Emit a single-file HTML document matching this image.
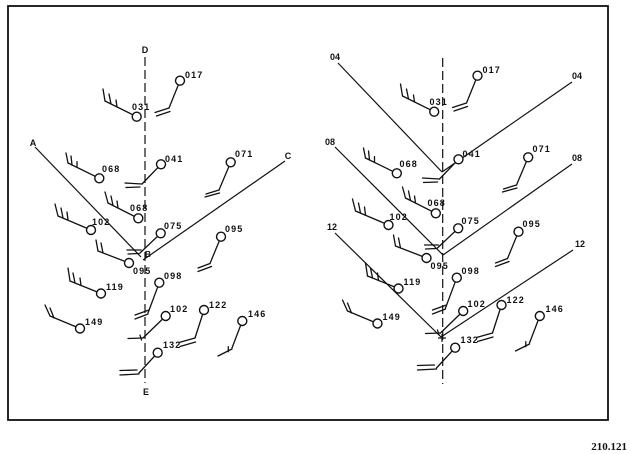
<!DOCTYPE html>
<html><head><meta charset="utf-8"><style>
html,body{margin:0;padding:0;background:#fff;}
svg{display:block;}
text{font-family:"Liberation Sans",sans-serif;font-weight:bold;fill:#111;}
.l{font-size:9px;letter-spacing:1.1px;}
</style></head><body>
<svg width="631" height="454" viewBox="0 0 631 454" xmlns="http://www.w3.org/2000/svg">
<rect x="0" y="0" width="631" height="454" fill="#fff"/>
<rect x="8" y="6" width="600" height="414" fill="none" stroke="#111" stroke-width="1.8"/>

<!-- dashed axes -->
<line x1="145" y1="57" x2="145" y2="383" stroke="#111" stroke-width="1.2" stroke-dasharray="9 4"/>
<line x1="442.7" y1="58" x2="442.7" y2="384" stroke="#111" stroke-width="1.2" stroke-dasharray="9 4"/>
<text x="145" y="53" font-size="9" text-anchor="middle">D</text>
<text x="146" y="395" font-size="9" text-anchor="middle">E</text>

<!-- left isopleths -->
<g stroke="#111" stroke-width="1.2" fill="none">
<line x1="35" y1="147" x2="141" y2="257"/>
<line x1="285" y1="161" x2="143" y2="260"/>
</g>
<text x="33" y="146" font-size="9" text-anchor="middle">A</text>
<text x="288" y="159" font-size="9" text-anchor="middle">C</text>
<text x="148" y="257" font-size="8.5" text-anchor="middle">B</text>

<!-- right isopleths -->
<g stroke="#111" stroke-width="1.2" fill="none">
<line x1="338" y1="63" x2="442" y2="172"/>
<line x1="572" y1="82" x2="442" y2="172"/>
<line x1="335" y1="147" x2="443" y2="255"/>
<line x1="572" y1="164" x2="443" y2="255"/>
<line x1="335" y1="233" x2="441" y2="337"/>
<line x1="573" y1="250" x2="441" y2="337"/>
<line x1="438" y1="338" x2="446" y2="338"/>
<line x1="442" y1="334" x2="442" y2="342"/>
</g>
<text x="335" y="60" font-size="9" text-anchor="middle">04</text>
<text x="577" y="79" font-size="9" text-anchor="middle">04</text>
<text x="330" y="145" font-size="9" text-anchor="middle">08</text>
<text x="577" y="161" font-size="9" text-anchor="middle">08</text>
<text x="332" y="230" font-size="9" text-anchor="middle">12</text>
<text x="580" y="247" font-size="9" text-anchor="middle">12</text>

<!-- LEFT stations -->
<g>
<g stroke="#111" stroke-width="1.3" fill="none" stroke-linecap="round">
<line x1="136.7" y1="116.7" x2="105" y2="101"/><line x1="105" y1="101" x2="103" y2="89"/><line x1="111" y1="104" x2="109" y2="94"/><line x1="117" y1="107" x2="116" y2="100"/>
<line x1="99.3" y1="178.3" x2="68" y2="163"/><line x1="68" y1="163" x2="66" y2="153"/><line x1="72" y1="165" x2="71" y2="156"/><line x1="77" y1="167.5" x2="77" y2="161.7"/>
<line x1="138.3" y1="218.3" x2="108" y2="203"/><line x1="108" y1="203" x2="105" y2="192"/><line x1="113" y1="205.5" x2="111" y2="196"/><line x1="118" y1="208" x2="117" y2="201"/>
<line x1="91" y1="230" x2="58" y2="216"/><line x1="58" y1="216" x2="55" y2="204"/><line x1="63" y1="218" x2="61" y2="208"/><line x1="68" y1="220" x2="67" y2="212"/>
<line x1="129" y1="263" x2="98" y2="251"/><line x1="98" y1="251" x2="96" y2="240"/><line x1="103" y1="253" x2="101" y2="243"/>
<line x1="101" y1="293.5" x2="70" y2="281"/><line x1="70" y1="281" x2="68" y2="268"/><line x1="75" y1="283" x2="73" y2="273"/><line x1="81" y1="285.5" x2="80" y2="278"/>
<line x1="80" y1="328.5" x2="50" y2="316"/><line x1="50" y1="316" x2="45" y2="305"/><line x1="54" y1="318" x2="50" y2="308"/>
<line x1="180" y1="80.7" x2="169" y2="108"/><line x1="169" y1="108" x2="155" y2="112.5"/><line x1="170" y1="111.5" x2="156.5" y2="116"/>
<line x1="161" y1="164.3" x2="142" y2="184"/><line x1="142" y1="184" x2="125" y2="183"/><line x1="140" y1="187" x2="126" y2="187.5"/>
<line x1="230.7" y1="162.3" x2="219" y2="190"/><line x1="219" y1="190" x2="206" y2="194"/><line x1="219.5" y1="193" x2="205" y2="197"/>
<line x1="160.7" y1="233.3" x2="140" y2="253"/><line x1="141" y1="250" x2="127" y2="250"/><line x1="139" y1="253.5" x2="128" y2="254"/>
<line x1="221" y1="236.7" x2="210" y2="263.5"/><line x1="210" y1="263.5" x2="198" y2="268"/><line x1="211.5" y1="266.5" x2="198" y2="271.5"/>
<line x1="159.3" y1="282.7" x2="148" y2="313"/><line x1="149" y1="310" x2="135" y2="315"/><line x1="148" y1="314" x2="135" y2="319"/>
<line x1="165.7" y1="316" x2="143" y2="338"/><line x1="143" y1="338" x2="128" y2="338.5"/><line x1="140" y1="335" x2="141.5" y2="340"/>
<line x1="204" y1="310" x2="195" y2="338"/><line x1="195" y1="338" x2="179" y2="342.5"/><line x1="195.5" y1="342" x2="180" y2="346.5"/>
<line x1="242.3" y1="321" x2="232" y2="348"/><line x1="232" y1="349" x2="218" y2="356"/><line x1="228.3" y1="346.7" x2="228.3" y2="351.7"/>
<line x1="157.7" y1="352.7" x2="139" y2="373"/><line x1="137" y1="370" x2="120" y2="370.5"/><line x1="139" y1="374" x2="120" y2="375"/>
</g>
<g stroke="#111" stroke-width="1.4" fill="#fff">
<circle cx="136.7" cy="116.7" r="4.5"/><circle cx="180" cy="80.7" r="4.5"/><circle cx="99.3" cy="178.3" r="4.5"/>
<circle cx="161" cy="164.3" r="4.5"/><circle cx="230.7" cy="162.3" r="4.5"/><circle cx="138.3" cy="218.3" r="4.5"/>
<circle cx="91" cy="230" r="4.5"/><circle cx="160.7" cy="233.3" r="4.5"/><circle cx="129" cy="263" r="4.5"/>
<circle cx="221" cy="236.7" r="4.5"/><circle cx="101" cy="293.5" r="4.5"/><circle cx="159.3" cy="282.7" r="4.5"/>
<circle cx="80" cy="328.5" r="4.5"/><circle cx="165.7" cy="316" r="4.5"/><circle cx="204" cy="310" r="4.5"/>
<circle cx="242.3" cy="321" r="4.5"/><circle cx="157.7" cy="352.7" r="4.5"/>
</g>
</g>
<g class="l">
<text x="132" y="110">031</text>
<text x="185" y="78">017</text>
<text x="102" y="172">068</text>
<text x="165" y="162">041</text>
<text x="235" y="157">071</text>
<text x="130" y="211">068</text>
<text x="92" y="225">102</text>
<text x="164" y="229">075</text>
<text x="133" y="274">095</text>
<text x="225" y="232">095</text>
<text x="106" y="290">119</text>
<text x="164" y="279">098</text>
<text x="85" y="325">149</text>
<text x="170" y="312">102</text>
<text x="209" y="308">122</text>
<text x="248" y="317">146</text>
<text x="163" y="348">132</text>
</g>

<!-- RIGHT stations -->
<g transform="translate(297.5,-5)">
<g stroke="#111" stroke-width="1.3" fill="none" stroke-linecap="round">
<line x1="136.7" y1="116.7" x2="105" y2="101"/><line x1="105" y1="101" x2="103" y2="89"/><line x1="111" y1="104" x2="109" y2="94"/><line x1="117" y1="107" x2="116" y2="100"/>
<line x1="99.3" y1="178.3" x2="68" y2="163"/><line x1="68" y1="163" x2="66" y2="153"/><line x1="72" y1="165" x2="71" y2="156"/><line x1="77" y1="167.5" x2="77" y2="161.7"/>
<line x1="138.3" y1="218.3" x2="108" y2="203"/><line x1="108" y1="203" x2="105" y2="192"/><line x1="113" y1="205.5" x2="111" y2="196"/><line x1="118" y1="208" x2="117" y2="201"/>
<line x1="91" y1="230" x2="58" y2="216"/><line x1="58" y1="216" x2="55" y2="204"/><line x1="63" y1="218" x2="61" y2="208"/><line x1="68" y1="220" x2="67" y2="212"/>
<line x1="129" y1="263" x2="98" y2="251"/><line x1="98" y1="251" x2="96" y2="240"/><line x1="103" y1="253" x2="101" y2="243"/>
<line x1="101" y1="293.5" x2="70" y2="281"/><line x1="70" y1="281" x2="68" y2="268"/><line x1="75" y1="283" x2="73" y2="273"/><line x1="81" y1="285.5" x2="80" y2="278"/>
<line x1="80" y1="328.5" x2="50" y2="316"/><line x1="50" y1="316" x2="45" y2="305"/><line x1="54" y1="318" x2="50" y2="308"/>
<line x1="180" y1="80.7" x2="169" y2="108"/><line x1="169" y1="108" x2="155" y2="112.5"/><line x1="170" y1="111.5" x2="156.5" y2="116"/>
<line x1="161" y1="164.3" x2="142" y2="184"/><line x1="142" y1="184" x2="125" y2="183"/><line x1="140" y1="187" x2="126" y2="187.5"/>
<line x1="230.7" y1="162.3" x2="219" y2="190"/><line x1="219" y1="190" x2="206" y2="194"/><line x1="219.5" y1="193" x2="205" y2="197"/>
<line x1="160.7" y1="233.3" x2="140" y2="253"/><line x1="141" y1="250" x2="127" y2="250"/><line x1="139" y1="253.5" x2="128" y2="254"/>
<line x1="221" y1="236.7" x2="210" y2="263.5"/><line x1="210" y1="263.5" x2="198" y2="268"/><line x1="211.5" y1="266.5" x2="198" y2="271.5"/>
<line x1="159.3" y1="282.7" x2="148" y2="313"/><line x1="149" y1="310" x2="135" y2="315"/><line x1="148" y1="314" x2="135" y2="319"/>
<line x1="165.7" y1="316" x2="143" y2="338"/><line x1="143" y1="338" x2="128" y2="338.5"/><line x1="140" y1="335" x2="141.5" y2="340"/>
<line x1="204" y1="310" x2="195" y2="338"/><line x1="195" y1="338" x2="179" y2="342.5"/><line x1="195.5" y1="342" x2="180" y2="346.5"/>
<line x1="242.3" y1="321" x2="232" y2="348"/><line x1="232" y1="349" x2="218" y2="356"/><line x1="228.3" y1="346.7" x2="228.3" y2="351.7"/>
<line x1="157.7" y1="352.7" x2="139" y2="373"/><line x1="137" y1="370" x2="120" y2="370.5"/><line x1="139" y1="374" x2="120" y2="375"/>
</g>
<g stroke="#111" stroke-width="1.4" fill="#fff">
<circle cx="136.7" cy="116.7" r="4.5"/><circle cx="180" cy="80.7" r="4.5"/><circle cx="99.3" cy="178.3" r="4.5"/>
<circle cx="161" cy="164.3" r="4.5"/><circle cx="230.7" cy="162.3" r="4.5"/><circle cx="138.3" cy="218.3" r="4.5"/>
<circle cx="91" cy="230" r="4.5"/><circle cx="160.7" cy="233.3" r="4.5"/><circle cx="129" cy="263" r="4.5"/>
<circle cx="221" cy="236.7" r="4.5"/><circle cx="101" cy="293.5" r="4.5"/><circle cx="159.3" cy="282.7" r="4.5"/>
<circle cx="80" cy="328.5" r="4.5"/><circle cx="165.7" cy="316" r="4.5"/><circle cx="204" cy="310" r="4.5"/>
<circle cx="242.3" cy="321" r="4.5"/><circle cx="157.7" cy="352.7" r="4.5"/>
</g>
<g class="l">
<text x="132" y="110">031</text>
<text x="185" y="78">017</text>
<text x="102" y="172">068</text>
<text x="165" y="162">041</text>
<text x="235" y="157">071</text>
<text x="130" y="211">068</text>
<text x="92" y="225">102</text>
<text x="164" y="229">075</text>
<text x="133" y="274">095</text>
<text x="225" y="232">095</text>
<text x="106" y="290">119</text>
<text x="164" y="279">098</text>
<text x="85" y="325">149</text>
<text x="170" y="312">102</text>
<text x="209" y="308">122</text>
<text x="248" y="317">146</text>
<text x="163" y="348">132</text>
</g>
</g>

<text x="627" y="450" text-anchor="end" style="font-family:'Liberation Serif',serif;font-size:11px;font-weight:bold;">210.121</text>
</svg>
</body></html>
